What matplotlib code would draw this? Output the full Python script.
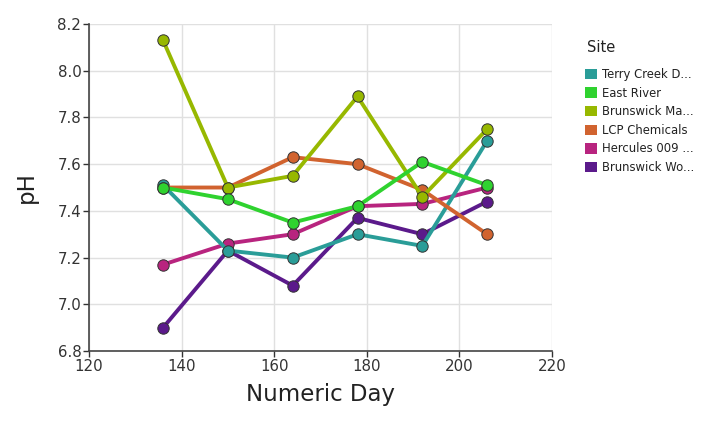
import matplotlib
matplotlib.use('Agg')
import matplotlib.pyplot as plt
from matplotlib.patches import Patch

# ── data ──
days = [136, 150, 164, 178, 192, 206]

sites = ['Terry Creek D...', 'East River', 'Brunswick Ma...',
         'LCP Chemicals', 'Hercules 009 ...', 'Brunswick Wo...']

terry_creek   = [7.51, 7.23, 7.20, 7.30, 7.25, 7.70]
east_river    = [7.50, 7.45, 7.35, 7.42, 7.61, 7.51]
brunswick_ma  = [8.13, 7.50, 7.55, 7.89, 7.46, 7.75]
lcp_chemicals = [7.50, 7.50, 7.63, 7.60, 7.49, 7.30]
hercules      = [7.17, 7.26, 7.30, 7.42, 7.43, 7.50]
brunswick_wo  = [6.90, 7.23, 7.08, 7.37, 7.30, 7.44]

COLORS = ['#2a9d98', '#2fd22f', '#97b800', '#d1632f', '#b8247f', '#5b1a8b']
series = [terry_creek, east_river, brunswick_ma, lcp_chemicals, hercules, brunswick_wo]

# drawing order so overlaps look like the reference
order = [5, 4, 0, 3, 2, 1]

fig = plt.figure(figsize=(7.16, 4.30), dpi=100)
ax = fig.add_axes([0.1243, 0.1837, 0.6466, 0.7604])

for i in order:
    ax.plot(days, series[i], color=COLORS[i], linewidth=2.8, marker='o',
            markersize=8.2, markerfacecolor=COLORS[i],
            markeredgecolor='#333333', markeredgewidth=0.7, zorder=3)

ax.set_xlim(120, 220)
ax.set_ylim(6.8, 8.2)
ax.set_xticks([120, 140, 160, 180, 200, 220])
ax.set_yticks([6.8, 7.0, 7.2, 7.4, 7.6, 7.8, 8.0, 8.2])
ax.set_yticklabels([f'{v:.1f}' for v in ax.get_yticks()])
ax.grid(True, color='#e0e0e0', linewidth=1)
ax.set_axisbelow(True)

for s in ['top', 'right']:
    ax.spines[s].set_visible(False)
for s in ['left', 'bottom']:
    ax.spines[s].set_color('#444444')
    ax.spines[s].set_linewidth(1.2)
ax.tick_params(colors='#333333', labelsize=10.8, length=4, width=1, pad=1.5)

ax.set_xlabel('Numeric Day', fontsize=16.5, color='#222222', labelpad=7)
ax.set_ylabel('pH', fontsize=16.5, color='#222222', labelpad=14)

# legend title drawn separately so the gap below it matches
fig.text(587 / 716, 1 - 48 / 430, 'Site', fontsize=10.5, color='#222222',
         ha='left', va='center')
handles = [Patch(facecolor=c, edgecolor='none') for c in COLORS]
leg = fig.legend(handles, sites, loc='upper left',
                 bbox_to_anchor=(585 / 716, 1 - 68 / 430), frameon=False,
                 fontsize=8.4, handlelength=1.0,
                 handleheight=1.0, handletextpad=0.45, labelspacing=0.48,
                 borderaxespad=0, borderpad=0)
for t in leg.get_texts():
    t.set_color('#222222')

fig.savefig('out.png', dpi=100, facecolor='white')
